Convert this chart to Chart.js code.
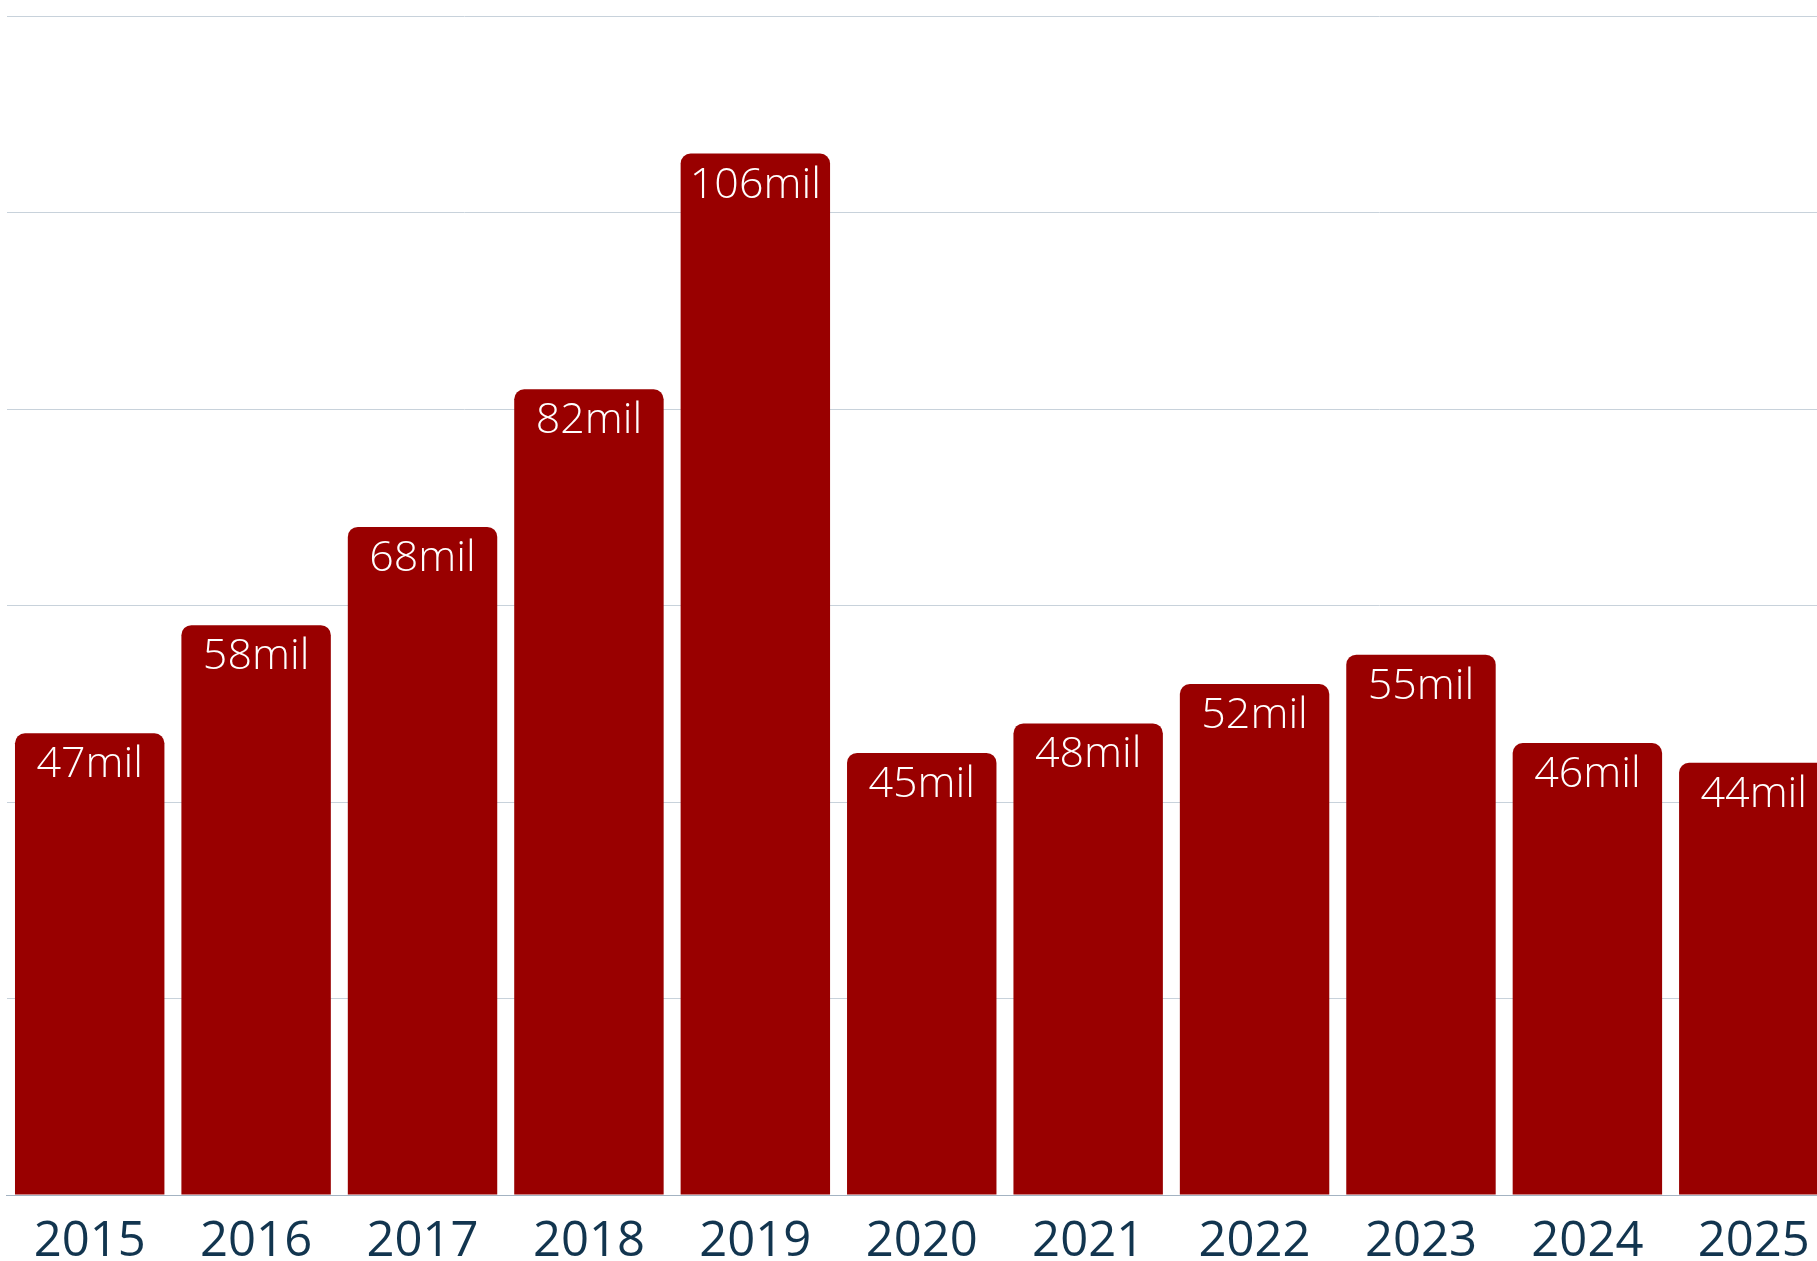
<!DOCTYPE html>
<html>
<head>
<meta charset="utf-8">
<script src="https://cdn.jsdelivr.net/npm/chart.js@4.4.1/dist/chart.umd.min.js"></script>
<style>
  html, body { margin: 0; padding: 0; background: #fff; overflow: hidden; }
  #chart { display: block; }
</style>
</head>
<body>
<canvas id="chart" width="1837" height="1261"></canvas>
<script>
// --- DATA ---
const years = ['2015', '2016', '2017', '2018', '2019', '2020', '2021', '2022', '2023', '2024', '2025'];
const values = [47, 58, 68, 82, 106, 45, 48, 52, 55, 46, 44];
const valueSuffix = 'mil';
const yTicks = [0, 20, 40, 60, 80, 100, 120];

// --- STYLE ---
const BAR_COLOR = '#990000';
const GRID_COLOR = '#c8d2db';
const AXIS_COLOR = '#a3b3c2';
const TICK_COLOR = '#12354f';
const FONT = '"Open Sans", "Noto Sans", sans-serif';

// draw value text inside the top of each bar
const barLabels = {
    id: 'barLabels',
    afterDatasetsDraw(chart) {
        const ctx = chart.ctx;
        const meta = chart.getDatasetMeta(0);
        ctx.save();
        ctx.fillStyle = '#ffffff';
        ctx.font = '300 43px ' + FONT;
        ctx.textAlign = 'center';
        ctx.textBaseline = 'alphabetic';
        meta.data.forEach((bar, i) => {
            ctx.fillText(values[i] + valueSuffix, bar.x, bar.y + 44);
        });
        ctx.restore();
    }
};

new Chart(document.getElementById('chart'), {
    type: 'bar',
    data: {
        labels: years,
        datasets: [{
            data: values,
            backgroundColor: BAR_COLOR,
            borderRadius: { topLeft: 10, topRight: 10, bottomLeft: 0, bottomRight: 0 },
            borderSkipped: 'bottom',
            categoryPercentage: 1,
            barPercentage: 0.898
        }]
    },
    options: {
        responsive: false,
        animation: false,
        layout: { padding: { top: 16, left: 6.5, right: 0, bottom: 0 } },
        plugins: {
            legend: { display: false },
            tooltip: { enabled: false }
        },
        scales: {
            x: {
                grid: { display: false, drawTicks: false },
                border: { display: true, color: AXIS_COLOR, width: 1 },
                ticks: {
                    color: TICK_COLOR,
                    font: { family: FONT, size: 49, weight: '400' },
                    padding: 18,
                    maxRotation: 0,
                    autoSkip: false
                },
                afterFit(scale) { scale.height = 66; }
            },
            y: {
                min: yTicks[0],
                max: yTicks[yTicks.length - 1],
                afterBuildTicks(scale) { scale.ticks = yTicks.map(v => ({ value: v })); },
                grid: { color: GRID_COLOR, lineWidth: 1, drawTicks: false },
                border: { display: false },
                ticks: { display: false },
                afterFit(scale) { scale.width = 0; }
            }
        }
    },
    plugins: [barLabels]
});
</script>
</body>
</html>
